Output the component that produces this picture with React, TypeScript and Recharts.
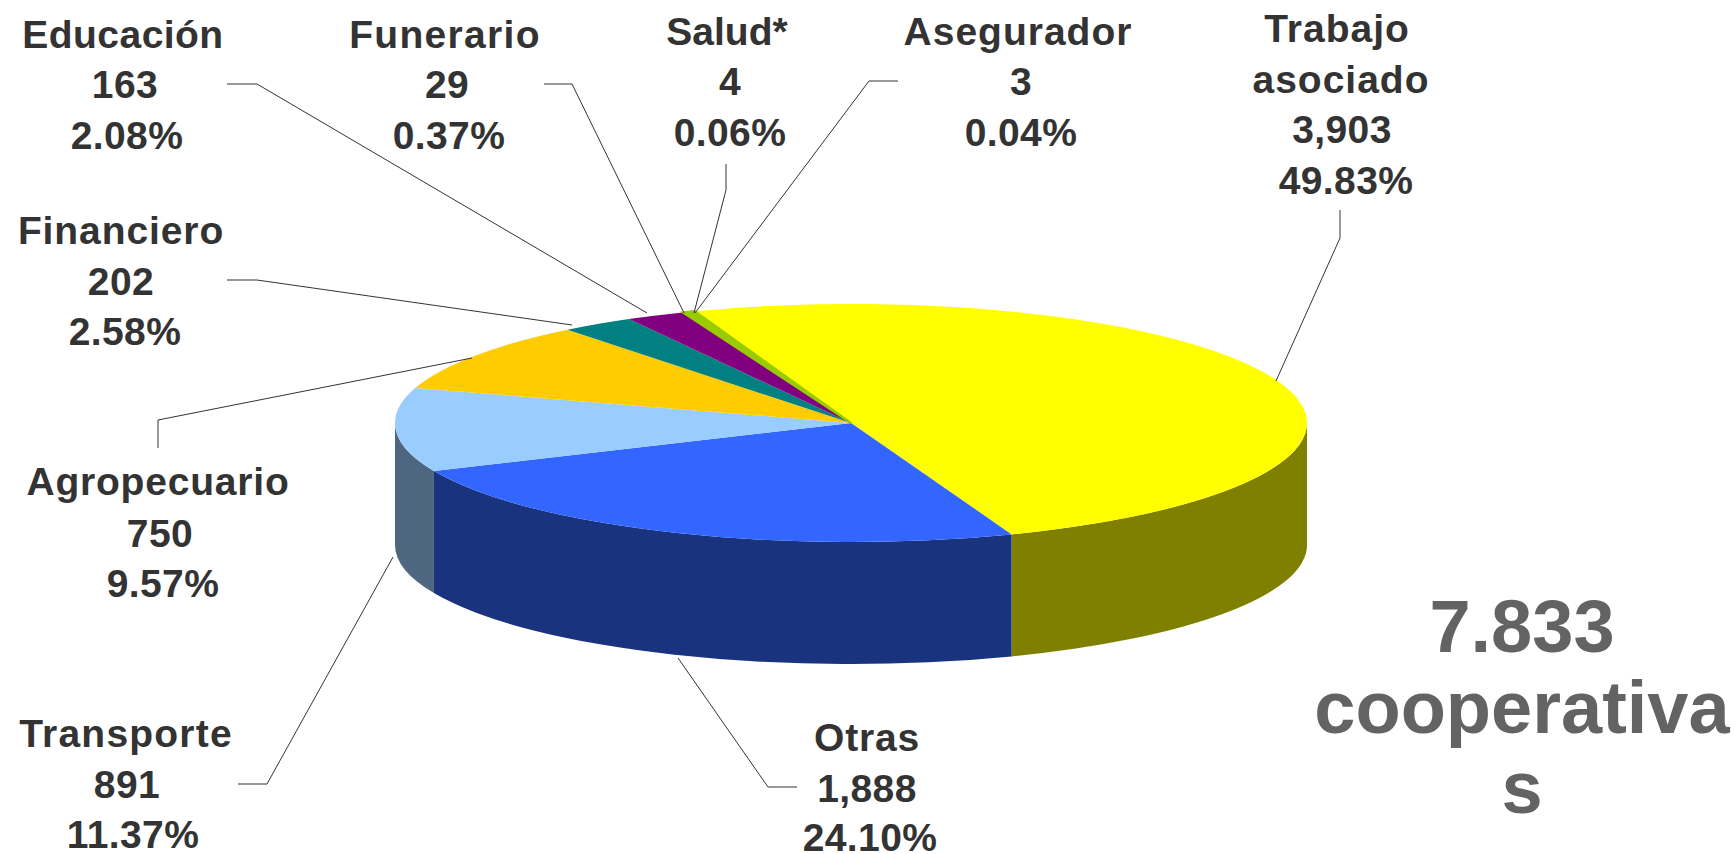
import React from 'react';
import { PieChart, Pie, Cell } from 'recharts';

const sectors = ['Trabajo asociado', 'Otras', 'Transporte', 'Agropecuario', 'Financiero', 'Educación', 'Funerario', 'Salud*', 'Asegurador'];
const counts = [3903, 1888, 891, 750, 202, 163, 29, 4, 3];
const topColors = ['#FFFF00', '#3366FF', '#99CCFF', '#FFCC00', '#008080', '#800080', '#99CC00', '#99CC00', '#99CC00'];
const sideColors = ['#808000', '#19337F', '#4F6680', '#806600', '#004040', '#400040', '#4D6600', '#4D6600', '#4D6600'];

// text lines of each callout, same order as sectors
const labelLines = [
  ['Trabajo', 'asociado', '3,903', '49.83%'],
  ['Otras', '1,888', '24.10%'],
  ['Transporte', '891', '11.37%'],
  ['Agropecuario', '750', '9.57%'],
  ['Financiero', '202', '2.58%'],
  ['Educación', '163', '2.08%'],
  ['Funerario', '29', '0.37%'],
  ['Salud*', '4', '0.06%'],
  ['Asegurador', '3', '0.04%'],
];

// where each callout sits: [x, baseline] per text line, then the leader line
const labelAnchors = [
  [[1337, 42], [1341, 93], [1342, 143], [1346, 194]],
  [[867, 751], [867, 802], [870, 851]],
  [[126, 747], [127, 798], [133, 848]],
  [[158, 495], [160, 547], [163, 597]],
  [[121, 244], [121, 295], [125, 345]],
  [[123, 48], [125, 98], [127, 149]],
  [[445, 48], [447, 98], [449, 149]],
  [[727, 45], [730, 95], [730, 146]],
  [[1018, 45], [1021, 95], [1021, 146]],
];
const leaderLines = [
  '1340,210 1340,238 1276,381',
  '797,787 768,787 678,658',
  '238,784 267,784 393,557',
  '158,448 158,420 472,358',
  '227,280 257,280 572,325',
  '227,84 257,84 647,313',
  '544,84 572,84 684,313',
  '726,164 726,190 694,313',
  '898,81 869,81 695,313',
];
// the words in the reference are set a little wider than the font
const wordTracking = [1, 0.8, 1.2, 0.8, 0.9, 0.45, 1.3, 0, 1];

const totalLines = ['7.833', 'cooperativa', 's'];
const totalBaselines = [652, 733, 813];

const chartData = sectors.map((name, i) => ({ name, value: counts[i] }));

const FONT = '"Liberation Sans", Arial, sans-serif';
const TILT = 119 / 456; // squash of the top face
const DEPTH = 122; // height of the wall

const rad = (a: number) => (a * Math.PI) / 180;

const TiltedSector = (props: any) => {
  const { cx, cy, outerRadius, startAngle, endAngle, fill, index } = props;
  const rx = outerRadius;
  const ry = outerRadius * TILT;
  const pt = (a: number, dy = 0) => `${cx + rx * Math.cos(rad(a))} ${cy - ry * Math.sin(rad(a)) + dy}`;
  const large = Math.abs(startAngle - endAngle) > 180 ? 1 : 0;
  const top = `M${cx} ${cy} L${pt(startAngle)} A${rx} ${ry} 0 ${large} 1 ${pt(endAngle)} Z`;

  // only the front half of the rim shows a wall
  const from = Math.min(startAngle, 0);
  const to = Math.max(endAngle, -180);
  const wall =
    from > to
      ? `M${pt(from)} A${rx} ${ry} 0 0 1 ${pt(to)} L${pt(to, DEPTH)} A${rx} ${ry} 0 0 0 ${pt(from, DEPTH)} Z`
      : null;

  // the three thinnest slices get a hairline so they stay as visible as in the reference
  const thin = index >= 6;

  return (
    <g>
      {wall && <path d={wall} fill={sideColors[index]} />}
      <path d={top} fill={fill} stroke={thin ? fill : 'none'} strokeWidth={thin ? 2 : 0} />
    </g>
  );
};

const Callout = ({ index }: any) => (
  <g>
    <polyline points={leaderLines[index]} fill="none" stroke="#333333" strokeWidth={1} />
    {labelLines[index].map((line, i) => (
      <text
        key={line}
        x={labelAnchors[index][i][0]}
        y={labelAnchors[index][i][1]}
        textAnchor="middle"
        fontFamily={FONT}
        fontWeight="bold"
        fontSize={39}
        letterSpacing={/[a-z]/i.test(line) ? wordTracking[index] : 0.4}
        fill="#333333"
      >
        {line}
      </text>
    ))}
  </g>
);

export default function App() {
  return (
    <div style={{ position: 'absolute', left: 0, top: 0, width: 1735, height: 854, background: '#fff' }}>
      <PieChart width={1735} height={854} margin={{ top: 0, right: 0, bottom: 0, left: 0 }} accessibilityLayer={false}>
        <Pie
          data={chartData}
          dataKey="value"
          nameKey="name"
          cx={851}
          cy={423}
          innerRadius={0}
          outerRadius={456}
          startAngle={110}
          endAngle={-250}
          paddingAngle={0}
          stroke="none"
          shape={TiltedSector}
          label={Callout}
          labelLine={false}
          isAnimationActive={false}
        >
          {sectors.map((name, i) => (
            <Cell key={name} fill={topColors[i]} />
          ))}
        </Pie>
        {totalLines.map((line, i) => (
          <text
            key={line}
            x={1522}
            y={totalBaselines[i]}
            textAnchor="middle"
            fontFamily={FONT}
            fontWeight="bold"
            fontSize={74}
            fill="#636363"
          >
            {line}
          </text>
        ))}
      </PieChart>
    </div>
  );
}
